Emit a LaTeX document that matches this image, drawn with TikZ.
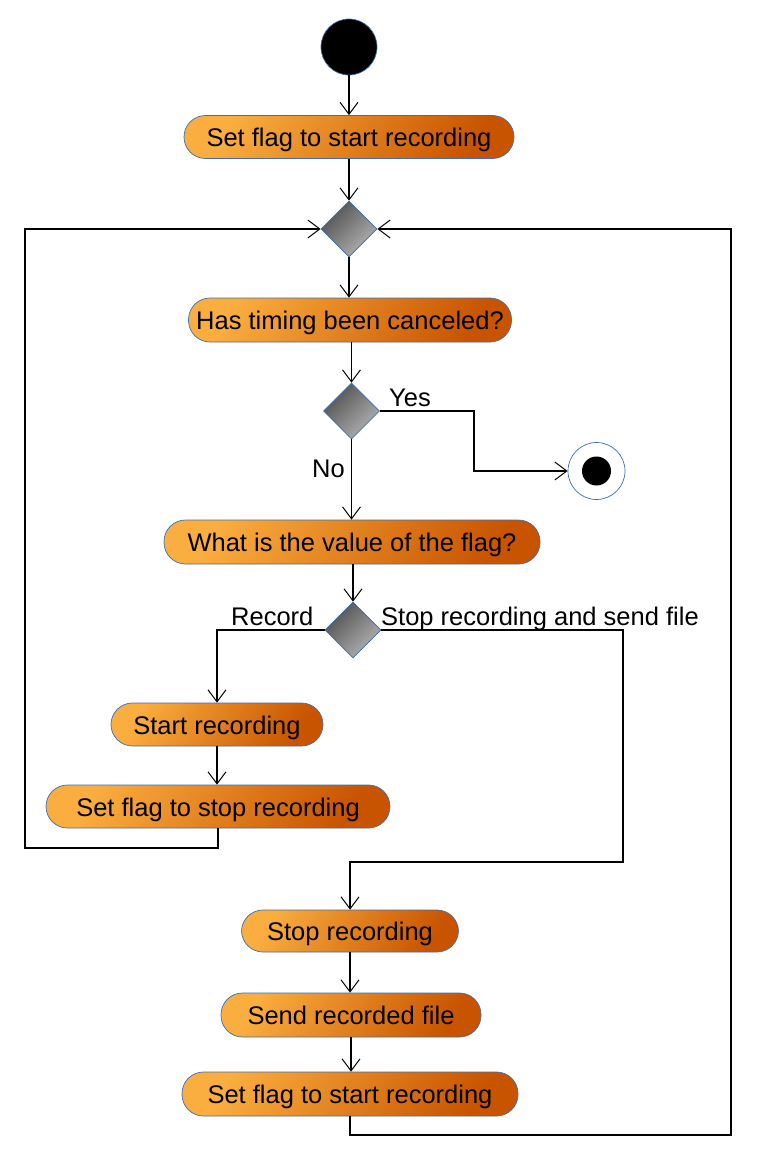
\documentclass[tikz,border=0pt]{standalone}
\usepackage{fontspec}
\setmainfont{Liberation Sans}
\usetikzlibrary{arrows.meta,shapes.geometric}
\definecolor{bordblue}{HTML}{3F6DAF}
\definecolor{orL}{HTML}{FAAE40}
\definecolor{orD}{HTML}{C85400}
\definecolor{grD}{HTML}{505050}
\definecolor{grL}{HTML}{B4B4B4}
\begin{document}
\begin{tikzpicture}[x=1pt,y=-1pt,
  action/.style={rectangle, rounded corners=21.5pt, draw=bordblue, line width=0.7pt,
     top color=orL, bottom color=orD, shading angle=60, inner sep=0pt,
     minimum height=43pt, text height=21.5pt, text depth=2.5pt,
     font=\fontsize{25.5}{30}\selectfont},
  decision/.style={diamond, draw=bordblue, line width=0.7pt, top color=grD, bottom color=grL,
     shading angle=45, inner sep=0pt, minimum width=56pt, minimum height=56pt},
  lbl/.style={inner sep=0pt, anchor=base west, font=\fontsize{25.5}{30}\selectfont},
  flow/.style={line width=1.6pt, -{Straight Barb[length=12pt,width=18pt,line width=1pt]}},
  wire/.style={line width=1.6pt}]
\useasboundingbox (0,0) rectangle (759,1167);

\node[circle, fill=black, draw=bordblue, line width=0.7pt, minimum size=56pt, inner sep=0pt] (start) at (349,47) {};
\node[action, minimum width=330pt] (n1) at (349,137) {Set flag to start recording};
\node[decision] (d1) at (349,229) {};
\node[action, minimum width=323pt, minimum height=44pt] (n2) at (350,320) {Has timing been canceled?};
\node[decision] (d2) at (351.5,411) {};
\node[circle, fill=white, draw=bordblue, line width=0.7pt, minimum size=57pt, inner sep=0pt] (endc) at (596.5,471) {};
\node[circle, fill=black, minimum size=29pt, inner sep=0pt] (endi) at (endc.center) {};
\node[action, minimum width=376pt, minimum height=44pt] (n3) at (352,542) {What is the value of the flag?};
\node[decision] (d3) at (353,630) {};
\node[action, minimum width=212pt] (n4) at (217,724.5) {Start recording};
\node[action, minimum width=344pt] (n5) at (218,806.5) {Set flag to stop recording};
\node[action, minimum width=217pt, minimum height=42pt] (n6) at (350,931) {Stop recording};
\node[action, minimum width=260pt, minimum height=44pt] (n7) at (351,1015) {Send recorded file};
\node[action, minimum width=336pt, minimum height=44pt] (n8) at (350,1094) {Set flag to start recording};

\coordinate (yesC) at (474,411);
\coordinate (L1) at (25,848);
\coordinate (R1) at (623,862);
\coordinate (R2) at (731,1135);

\draw[flow] (start) -- (n1);
\draw[flow] (n1) -- (d1);
\draw[flow] (d1) -- (n2.north -| d1);
\draw[flow] (n2.south -| d2) -- (d2);
\draw[flow] (d2) -- (n3.north -| d2);
\draw[flow] (d2.east) -- (yesC) |- (endc.west);
\draw[flow] (n3.south -| d3) -- (d3);
\draw[flow] (d3.west) -| (n4.north);
\draw[flow] (n4.south) -- (n4.south |- n5.north);
\draw[flow] (n5.south) |- (L1) |- (d1.west);
\draw[flow] (d3.east) -| (R1) -| (n6.north);
\draw[flow] (n6) -- (n7.north -| n6);
\draw[flow] (n7) -- (n8.north -| n7);
\draw[flow] (n8.south) |- (R2) |- (d1.east);

\node[lbl] (yes) at (389,406) {Yes};
\node[lbl] (no) at (312,477) {No};
\node[lbl] (rec) at (231,625) {Record};
\node[lbl] (stop) at (381,625) {Stop recording and send file};
\end{tikzpicture}
\end{document}
